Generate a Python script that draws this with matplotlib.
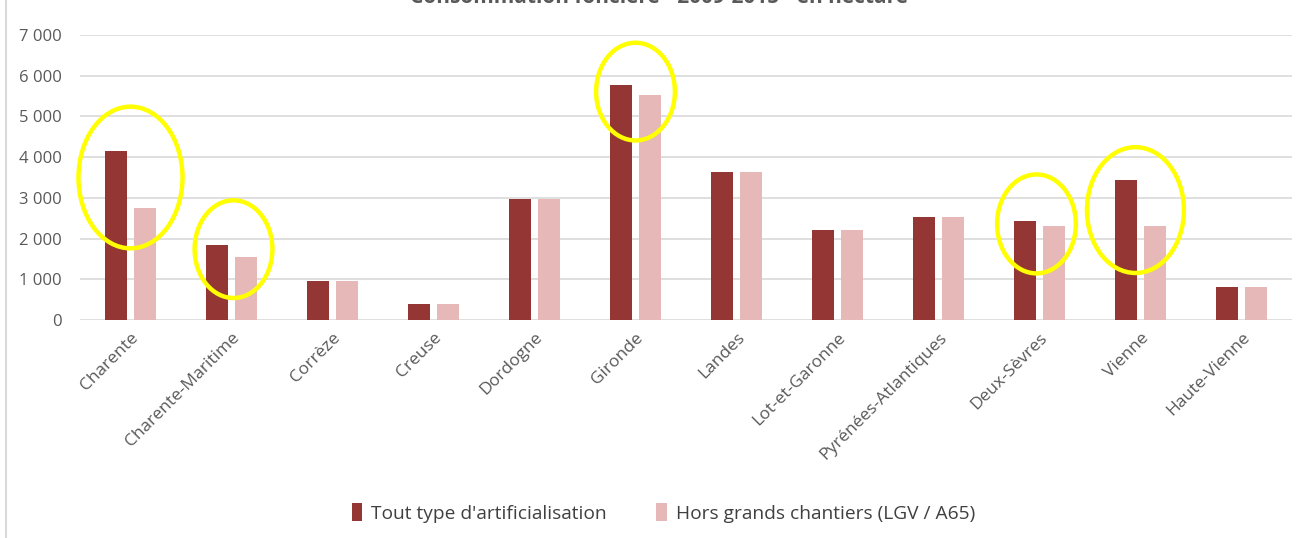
import matplotlib.pyplot as plt
from matplotlib.patches import Ellipse
from matplotlib.lines import Line2D
import numpy as np

plt.rcParams['font.family'] = ['Open Sans', 'DejaVu Sans']

departements = ['Charente', 'Charente-Maritime', 'Corrèze', 'Creuse', 'Dordogne', 'Gironde',
                'Landes', 'Lot-et-Garonne', 'Pyrénées-Atlantiques', 'Deux-Sèvres', 'Vienne',
                'Haute-Vienne']
tout_type = [4140, 1830, 960, 400, 2960, 5760, 3640, 2200, 2540, 2440, 3450, 810]
hors_chantiers = [2760, 1540, 960, 400, 2960, 5520, 3640, 2200, 2540, 2300, 2320, 810]

# yellow circles drawn on the chart: (index, centre value, width, height)
cercles = [(0.0, 3500, 1.03, 3480), (1.02, 1740, 0.77, 2400), (5.0, 5610, 0.78, 2400),
           (8.97, 2360, 0.78, 2430), (9.95, 2700, 0.96, 3090)]

dark = '#943634'
light = '#E6B8B7'
gray = '#595959'

fig = plt.figure(figsize=(12.98, 5.38), dpi=100)
ax = fig.add_axes([80 / 1298, 1 - 320 / 538, 1212 / 1298, 285 / 538])

x = np.arange(len(departements))
w = 0.22
ax.bar(x - 0.14, tout_type, w, color=dark, zorder=3, label="Tout type d'artificialisation")
ax.bar(x + 0.14, hors_chantiers, w, color=light, zorder=3, label='Hors grands chantiers (LGV / A65)')

for cx, cy, ew, eh in cercles:
    ax.add_patch(Ellipse((cx, cy), ew, eh, fill=False, edgecolor='#FFFF00', lw=3.2, zorder=4,
                         clip_on=False))

ax.set_xlim(-0.5, len(departements) - 0.5)
ax.set_ylim(0, 7000)
ax.set_yticks(range(0, 7001, 1000))
ax.set_yticklabels(['0' if v == 0 else f'{v // 1000} 000' for v in range(0, 7001, 1000)])
ax.grid(axis='y', color='#D9D9D9', lw=1.2, zorder=0)
for s in ax.spines.values():
    s.set_visible(False)
ax.tick_params(axis='both', length=0, colors=gray)
ax.tick_params(axis='y', pad=13, labelsize=12)
ax.set_xticks(x)
ax.set_xticklabels(departements, rotation=45, ha='right', va='top', rotation_mode='anchor')
ax.tick_params(axis='x', pad=7, labelsize=12.5)

fig.text(0.508, 1 - 3 / 538, 'Consommation foncière - 2009-2015 - en hectare', ha='center',
         va='baseline', fontsize=15, fontweight='bold', color=gray)

fig.legend(loc='center', bbox_to_anchor=(0.511, 1 - 513 / 538), ncol=2, frameon=False,
           fontsize=13.8, handlelength=0.55, handleheight=1.0, handletextpad=0.45,
           columnspacing=2.6, labelcolor='#404040')

fig.add_artist(Line2D([6 / 1298, 6 / 1298], [0, 1], color='#D9D9D9', lw=1.5))

fig.savefig('out.png', dpi=100)
